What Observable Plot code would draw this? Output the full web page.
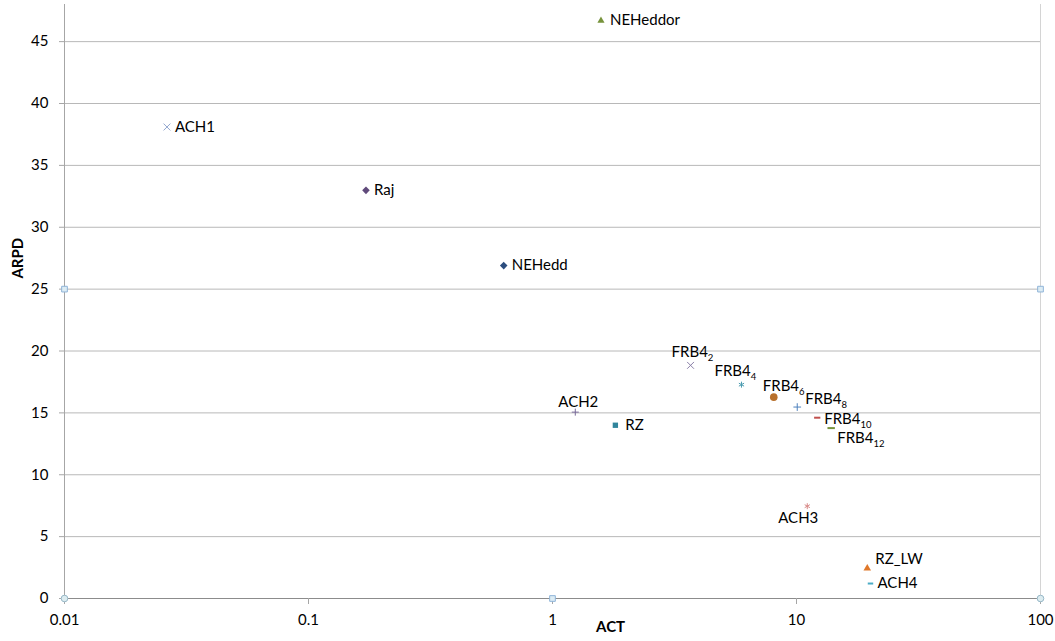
<!DOCTYPE html>
<html>
<head>
<meta charset="utf-8">
<script src="https://cdn.jsdelivr.net/npm/d3@7"></script>
<script src="https://cdn.jsdelivr.net/npm/@observablehq/plot@0.6"></script>
<style>
  html, body { margin: 0; padding: 0; background: #fff; }
  #chart { width: 1055px; height: 641px; }
</style>
</head>
<body>
<div id="chart"></div>
<script>
// ---- data ----
const names = ["ACH1","Raj","NEHedd","NEHeddor","ACH2","RZ","FRB4|2","FRB4|4","FRB4|6","FRB4|8","FRB4|10","FRB4|12","ACH3","RZ_LW","ACH4"];
const act   = [0.0263, 0.172, 0.631, 1.58, 1.24, 1.81, 3.68, 5.95, 8.07, 10.07, 12.16, 13.87, 11.07, 19.5, 20.1];
const arpd  = [38.1, 32.98, 26.9, 46.7, 15.06, 14.0, 18.84, 17.28, 16.27, 15.47, 14.61, 13.77, 7.46, 2.43, 1.21];

const xTicks = [0.01, 0.1, 1, 10, 100];
const yTicks = [0, 5, 10, 15, 20, 25, 30, 35, 40, 45];

// small frame markers drawn on the axes
const frameSquareX = [0.01, 100, 1];
const frameSquareY = [25, 25, 0];
const frameCircleX = [0.01, 100];
const frameCircleY = [0, 0];

// ---- styles ----
const dash = { draw(ctx, size) { const w = Math.sqrt(size) * 1.1; ctx.rect(-w / 2, -1, w, 2); } };
const styles = {
  "ACH1":     {symbol: "times",    color: "#94a8d0", filled: false, r: 3.2},
  "Raj":      {symbol: "diamond2", color: "#604a7b", filled: true,  r: 3.4},
  "NEHedd":   {symbol: "diamond2", color: "#2c4d7e", filled: true,  r: 3.4},
  "NEHeddor": {symbol: "triangle2",color: "#77933c", filled: true,  r: 3.4},
  "ACH2":     {symbol: "plus",     color: "#7a6a9a", filled: false, r: 2.4},
  "RZ":       {symbol: "square2",  color: "#31859c", filled: true,  r: 3.4},
  "FRB4|2":   {symbol: "times",    color: "#8a7fa8", filled: false, r: 3.2},
  "FRB4|4":   {symbol: "asterisk", color: "#4a9bb0", filled: false, r: 2.8},
  "FRB4|6":   {symbol: "circle",   color: "#b8702b", filled: true,  r: 3.8},
  "FRB4|8":   {symbol: "plus",     color: "#4f81bd", filled: false, r: 2.6},
  "FRB4|10":  {symbol: dash,       color: "#c0504d", filled: true,  r: 3.2},
  "FRB4|12":  {symbol: dash,       color: "#77933c", filled: true,  r: 3.8},
  "ACH3":     {symbol: "asterisk", color: "#d98a88", filled: false, r: 2.8},
  "RZ_LW":    {symbol: "triangle2",color: "#e0782a", filled: true,  r: 3.6},
  "ACH4":     {symbol: dash,       color: "#4bacc6", filled: true,  r: 2.8}
};
// label placement: [dx, dy, anchor]
const place = {
  "ACH1": [8, 0, "start"], "Raj": [8, 0, "start"], "NEHedd": [8, 0, "start"],
  "NEHeddor": [9, 0, "start"], "ACH2": [3, -10, "middle"], "RZ": [10, 0, "start"],
  "FRB4|2": [-19, -13, "start"], "FRB4|4": [-27, -13, "start"], "FRB4|6": [-11, -11, "start"],
  "FRB4|8": [8, -8, "start"], "FRB4|10": [7, 1, "start"], "FRB4|12": [6, 10, "start"],
  "ACH3": [-9, 12, "middle"], "RZ_LW": [8, -9, "start"], "ACH4": [7, 0, "start"]
};

const data = names.map((n, i) => ({name: n, act: act[i], arpd: arpd[i]}));
const squares = frameSquareX.map((x, i) => ({x, y: frameSquareY[i]}));
const circles = frameCircleX.map((x, i) => ({x, y: frameCircleY[i]}));

const FONT = "Lato, 'Open Sans', sans-serif";
const FS = 15;

const marks = [
  Plot.gridY(yTicks.filter(d => d > 0), {stroke: "#b8b8b8", strokeOpacity: 1}),
  Plot.ruleX([100], {stroke: "#d4d4d4"}),
  Plot.ruleX([0.01], {stroke: "#a6a6a6"}),
  Plot.ruleY([0], {stroke: "#8c8c8c"}),
  Plot.axisY({ticks: yTicks, tickSize: 5, tickPadding: 11, stroke: "#a6a6a6", fill: "#000", label: null, tickFormat: d => String(d)}),
  Plot.axisX({ticks: xTicks, tickSize: 6, tickPadding: 10, stroke: "#a6a6a6", fill: "#000", label: null, tickFormat: d => String(d)}),
  Plot.dot(squares, {x: "x", y: "y", symbol: "square", r: 3.2, fill: "#dcecf4", stroke: "#8fb4d8", strokeWidth: 1}),
  Plot.dot(circles, {x: "x", y: "y", symbol: "circle", r: 3.3, fill: "#dcecf0", stroke: "#98b8c8", strokeWidth: 1}),
  Plot.text(["ARPD"], {frameAnchor: "left", y: [27.5], dx: -46, rotate: -90, fontWeight: "bold", fontSize: FS, fill: "#000", textAnchor: "middle"}),
  Plot.text(["ACT"], {frameAnchor: "bottom", x: [1.73], dy: 33, fontWeight: "bold", fontSize: FS, fill: "#000", textAnchor: "middle"})
];

for (const d of data) {
  const s = styles[d.name];
  marks.push(Plot.dot([d], {
    x: "act", y: "arpd", symbol: s.symbol, r: s.r,
    fill: s.filled ? s.color : "none",
    stroke: s.filled ? "none" : s.color,
    strokeWidth: 1
  }));
  const [dx, dy, anchor] = place[d.name];
  marks.push(Plot.text([d], {
    x: "act", y: "arpd", text: "name", dx, dy, textAnchor: anchor,
    fontSize: FS, fill: "#000"
  }));
}

const svg = Plot.plot({
  width: 1055, height: 641,
  marginLeft: 64, marginRight: 15, marginTop: 4, marginBottom: 43,
  style: {fontFamily: FONT, fontSize: FS + "px", background: "#fff", color: "#000"},
  x: {type: "log", domain: [0.01, 100]},
  y: {domain: [0, 48]},
  marks
});

// subscripts for labels like "FRB4|2"
svg.querySelectorAll("text").forEach(t => {
  if (t.children.length === 0 && t.textContent.includes("|")) {
    const [a, b] = t.textContent.split("|");
    t.textContent = a;
    const ts = document.createElementNS("http://www.w3.org/2000/svg", "tspan");
    ts.setAttribute("font-size", "9.5");
    ts.setAttribute("dy", "4");
    ts.textContent = b;
    t.appendChild(ts);
  }
});

document.getElementById("chart").appendChild(svg);
</script>
</body>
</html>
